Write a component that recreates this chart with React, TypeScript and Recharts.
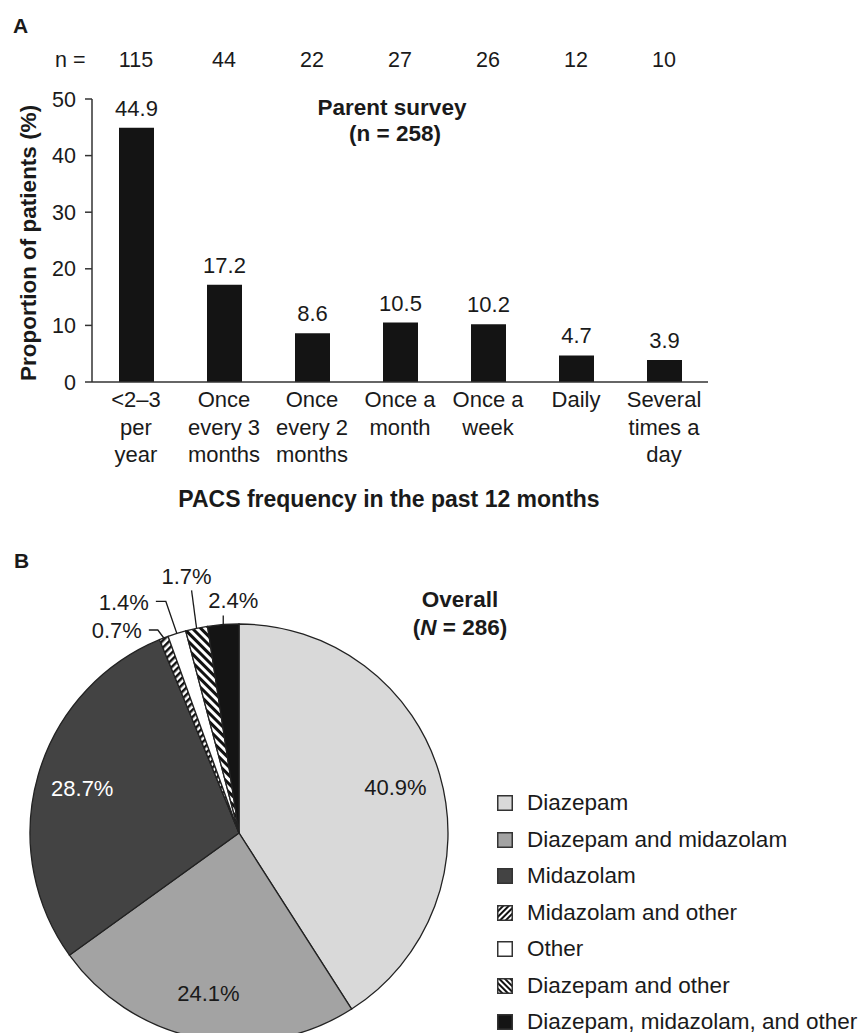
import { BarChart, Bar, XAxis, YAxis, LabelList, PieChart, Pie, Cell, Legend } from 'recharts'

const FONT = '"Liberation Sans", Arial, Helvetica, sans-serif'
const INK = '#1a1a1a'

// Panel A: PACS frequency (parent survey)
const frequencies = [
  '<2–3\nper\nyear',
  'Once\nevery 3\nmonths',
  'Once\nevery 2\nmonths',
  'Once a\nmonth',
  'Once a\nweek',
  'Daily',
  'Several\ntimes a\nday',
]
const proportions = [44.9, 17.2, 8.6, 10.5, 10.2, 4.7, 3.9]
const respondents = [115, 44, 22, 27, 26, 12, 10]
const proportionTicks = [0, 10, 20, 30, 40, 50]

// Panel B: rescue medication used (overall)
const treatments = [
  'Diazepam',
  'Diazepam and midazolam',
  'Midazolam',
  'Midazolam and other',
  'Other',
  'Diazepam and other',
  'Diazepam, midazolam, and other',
]
const shares = [40.9, 24.1, 28.7, 0.7, 1.4, 1.7, 2.4]

const barData = frequencies.map((f, i) => ({ frequency: f, proportion: proportions[i], n: respondents[i] }))
const pieData = treatments.map((t, i) => ({ name: t, share: shares[i] }))

const FILLS: Record<string, string> = {
  Diazepam: '#d9d9d9',
  'Diazepam and midazolam': '#a3a3a3',
  Midazolam: '#434343',
  'Midazolam and other': 'url(#hatchUp)',
  Other: '#ffffff',
  'Diazepam and other': 'url(#hatchDown)',
  'Diazepam, midazolam, and other': '#141414',
}

// leader lines for the thin slices, offsets from the slice's outer edge
const LEADERS: Record<string, { path: number[][]; text: number[]; anchor: 'start' | 'middle' | 'end' }> = {
  'Diazepam, midazolam, and other': { path: [[0, -9]], text: [10, -17], anchor: 'middle' },
  'Diazepam and other': { path: [[-5, -38]], text: [-10, -44], anchor: 'middle' },
  Other: { path: [[-11, -32], [-21, -32]], text: [-28, -23], anchor: 'end' },
  'Midazolam and other': { path: [[-6, -8], [-15, -8]], text: [-22, 0], anchor: 'end' },
}

const RAD = Math.PI / 180

const FrequencyTick = ({ x, y, payload }: any) => {
  const lines = String(payload.value).split('\n')
  return (
    <text x={x} y={y} textAnchor="middle" fontSize={22} fill={INK} fontFamily={FONT}>
      {lines.map((line, i) => (
        <tspan key={i} x={x} dy={i === 0 ? 25 : 27.5}>
          {line}
        </tspan>
      ))}
    </text>
  )
}

const renderSliceLabel = (props: any) => {
  const { cx, cy, midAngle, outerRadius, index } = props
  const name = treatments[index]
  const text = `${shares[index].toFixed(1)}%`
  const leader = LEADERS[name]
  if (!leader) {
    const r = outerRadius * 0.78
    return (
      <text
        x={cx + r * Math.cos(-midAngle * RAD)}
        y={cy + r * Math.sin(-midAngle * RAD)}
        textAnchor="middle"
        dominantBaseline="central"
        fontSize={22}
        fontFamily={FONT}
        fill={name === 'Midazolam' ? '#ffffff' : INK}
      >
        {text}
      </text>
    )
  }
  const ex = cx + outerRadius * Math.cos(-midAngle * RAD)
  const ey = cy + outerRadius * Math.sin(-midAngle * RAD)
  const pts = [[ex, ey], ...leader.path.map(([dx, dy]) => [ex + dx, ey + dy])]
  return (
    <g>
      <polyline points={pts.map((p) => p.join(',')).join(' ')} fill="none" stroke={INK} strokeWidth={1.3} />
      <text
        x={ex + leader.text[0]}
        y={ey + leader.text[1]}
        textAnchor={leader.anchor}
        fontSize={22}
        fontFamily={FONT}
        fill={INK}
      >
        {text}
      </text>
    </g>
  )
}

const LegendIcon = ({ name, i }: { name: string; i: number }) => {
  const fill = FILLS[name]
  const hatch = fill.startsWith('url')
  const id = `leg${i}`
  return (
    <svg width={16} height={16} style={{ flex: 'none' }}>
      {hatch && (
        <defs>
          <pattern
            id={id}
            width={4}
            height={4}
            patternUnits="userSpaceOnUse"
            patternTransform={fill.includes('Up') ? 'rotate(45)' : 'rotate(-45)'}
          >
            <rect width={4} height={4} fill="#fff" />
            <line x1={1} y1={0} x2={1} y2={4} stroke="#111" strokeWidth={2} />
          </pattern>
        </defs>
      )}
      <rect x={0.75} y={0.75} width={14.5} height={14.5} fill={hatch ? `url(#${id})` : fill} stroke="#333" strokeWidth={1.5} />
    </svg>
  )
}

const renderLegend = () => (
  <div style={{ fontFamily: FONT, fontSize: 22.5, color: INK }}>
    {treatments.map((t, i) => (
      <div key={t} style={{ display: 'flex', alignItems: 'center', height: 36.5, whiteSpace: 'nowrap' }}>
        <LegendIcon name={t} i={i} />
        <span style={{ marginLeft: 14 }}>{t}</span>
      </div>
    ))}
  </div>
)

export default function App() {
  return (
    <div
      style={{
        position: 'absolute',
        left: 0,
        top: 0,
        width: 863,
        height: 1033,
        overflow: 'hidden',
        background: '#fff',
        fontFamily: FONT,
      }}
    >
      <div style={{ position: 'absolute', left: 0, top: 0 }}>
        <BarChart width={863} height={560} data={barData} margin={{ top: 39, right: 155, bottom: 118, left: 0 }}>
          <XAxis
            xAxisId="n"
            orientation="top"
            dataKey="n"
            height={60}
            axisLine={false}
            tickLine={false}
            tickSize={0}
            tickMargin={32}
            interval={0}
            tick={{ fontSize: 21.5, fill: INK, fontFamily: FONT }}
          />
          <XAxis
            dataKey="frequency"
            height={60}
            interval={0}
            tickLine={false}
            tickSize={0}
            tickMargin={0}
            axisLine={{ stroke: '#333', strokeWidth: 1.5 }}
            tick={<FrequencyTick />}
          />
          <YAxis
            width={92}
            domain={[0, 50]}
            ticks={proportionTicks}
            tickSize={7}
            tickMargin={9}
            axisLine={{ stroke: '#333', strokeWidth: 1.5 }}
            tickLine={{ stroke: '#333', strokeWidth: 1.5 }}
            tick={{ fontSize: 21.5, fill: INK, fontFamily: FONT }}
          />
          <Bar dataKey="proportion" fill="#141414" barSize={35} isAnimationActive={false}>
            <LabelList
              dataKey="proportion"
              position="top"
              offset={12}
              formatter={(v: any) => Number(v).toFixed(1)}
              style={{ fontSize: 22, fill: INK, fontFamily: FONT }}
            />
          </Bar>
        </BarChart>
      </div>

      <div style={{ position: 'absolute', left: 0, top: 540 }}>
        <PieChart width={863} height={493} margin={{ top: 0, right: 0, bottom: 0, left: 0 }}>
          <defs>
            <pattern id="hatchUp" width={5} height={5} patternUnits="userSpaceOnUse" patternTransform="rotate(45)">
              <rect width={5} height={5} fill="#fff" />
              <line x1={1.25} y1={0} x2={1.25} y2={5} stroke="#111" strokeWidth={2.5} />
            </pattern>
            <pattern id="hatchDown" width={6} height={6} patternUnits="userSpaceOnUse" patternTransform="rotate(-45)">
              <rect width={6} height={6} fill="#fff" />
              <line x1={1.5} y1={0} x2={1.5} y2={6} stroke="#111" strokeWidth={3} />
            </pattern>
          </defs>
          <Pie
            data={pieData}
            dataKey="share"
            nameKey="name"
            cx={239}
            cy={293}
            outerRadius={209}
            startAngle={90}
            endAngle={-270}
            stroke="#222"
            strokeWidth={1.3}
            labelLine={false}
            label={renderSliceLabel}
            isAnimationActive={false}
          >
            {pieData.map((d) => (
              <Cell key={d.name} fill={FILLS[d.name]} />
            ))}
          </Pie>
          <Legend
            layout="vertical"
            align="right"
            verticalAlign="middle"
            content={renderLegend}
            wrapperStyle={{ left: 497, top: 245, width: 366 }}
          />
        </PieChart>
      </div>

      <svg
        width={863}
        height={1033}
        style={{ position: 'absolute', left: 0, top: 0, pointerEvents: 'none' }}
        fontFamily={FONT}
        fill={INK}
      >
        <text x={13} y={33} fontSize={21} fontWeight="bold">A</text>
        <text x={55} y={67} fontSize={21.5}>n =</text>
        <text x={392} y={115} fontSize={22.5} fontWeight="bold" textAnchor="middle">Parent survey</text>
        <text x={395} y={141} fontSize={22.5} fontWeight="bold" textAnchor="middle">(n = 258)</text>
        <text transform="translate(36,243) rotate(-90)" fontSize={22.5} fontWeight="bold" textAnchor="middle">
          Proportion of patients (%)
        </text>
        <text x={389} y={507} fontSize={23} fontWeight="bold" textAnchor="middle">
          PACS frequency in the past 12 months
        </text>
        <text x={14} y={568} fontSize={21} fontWeight="bold">B</text>
        <text x={460} y={607} fontSize={22.5} fontWeight="bold" textAnchor="middle">Overall</text>
        <text x={460} y={635} fontSize={22.5} fontWeight="bold" textAnchor="middle">
          (<tspan fontStyle="italic">N</tspan> = 286)
        </text>
      </svg>
    </div>
  )
}
